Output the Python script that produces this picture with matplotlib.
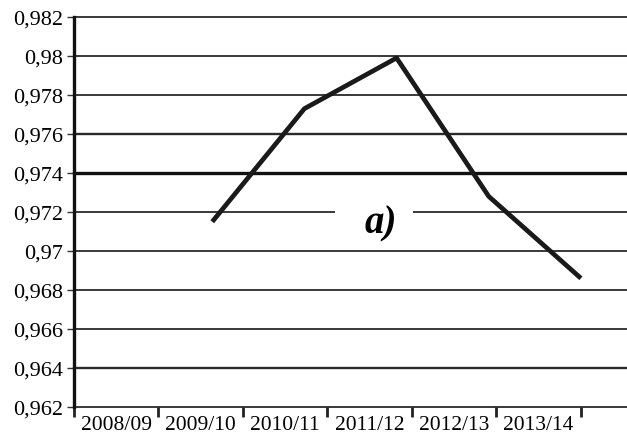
import matplotlib
matplotlib.use("Agg")
import matplotlib.pyplot as plt
import numpy as np

categories = ["2008/09", "2009/10", "2010/11", "2011/12", "2012/13", "2013/14"]
values = [None, 0.9715, 0.9773, 0.9799, 0.9728, 0.9686]
yticks = [0.962, 0.964, 0.966, 0.968, 0.970, 0.972, 0.974, 0.976, 0.978, 0.980, 0.982]
ytick_labels = ["0,962", "0,964", "0,966", "0,968", "0,97", "0,972", "0,974", "0,976", "0,978", "0,98", "0,982"]
panel_label = "a)"

plt.rcParams['font.family'] = ['Liberation Serif', 'DejaVu Serif']

fig = plt.figure(figsize=(6.27, 4.39), dpi=100)
ax = fig.add_axes([74/627, 31/439, 1 - 74/627, (408-18)/439])

ax.set_xlim(-0.5, 5.5)
ax.set_ylim(0.962, 0.982)

# gridlines
for y in yticks:
    lw = 1.3
    col = '#2a2a2a'
    if abs(y - 0.974) < 1e-9:
        lw, col = 2.4, '#111111'
    elif abs(y - 0.976) < 1e-9 or abs(y - 0.964) < 1e-9:
        lw = 1.7
    ax.axhline(y, color=col, lw=lw, zorder=1, clip_on=False)

# gap in the 0,972 gridline around the panel label
ax.hlines(0.972, 2.33, 3.18, color='white', lw=3, zorder=2)

xs = [i for i, v in enumerate(values) if v is not None]
ys = [v for v in values if v is not None]
ax.plot(xs, ys, color='#1a1a1a', lw=3.4, zorder=3, solid_capstyle='butt')

ax.text(2.83, 0.97145, panel_label, fontsize=28, fontweight='bold', fontstyle='italic',
        ha='center', va='center', zorder=4)

for s in ['top', 'right', 'bottom']:
    ax.spines[s].set_visible(False)
ax.spines['left'].set_linewidth(2.4)
ax.spines['left'].set_color('#111111')

ax.set_yticks(yticks)
ax.set_yticklabels(ytick_labels, fontsize=16)
ax.tick_params(axis='y', length=5, width=1, color='#333333', pad=3)

n = len(categories)
w = 5.5 / n
bounds = [-0.5 + k * w for k in range(n + 1)]
centers = [-0.5 + (k + 0.5) * w for k in range(n)]
ax.set_xticks(bounds)
ax.set_xticklabels([])
ax.tick_params(axis='x', which='major', length=7, width=2, color='#222222', direction='out')
ax.set_xticks(centers, minor=True)
ax.set_xticklabels(categories, minor=True, fontsize=15.5)
ax.tick_params(axis='x', which='minor', length=0, pad=6)

fig.savefig("out.png", dpi=100)
